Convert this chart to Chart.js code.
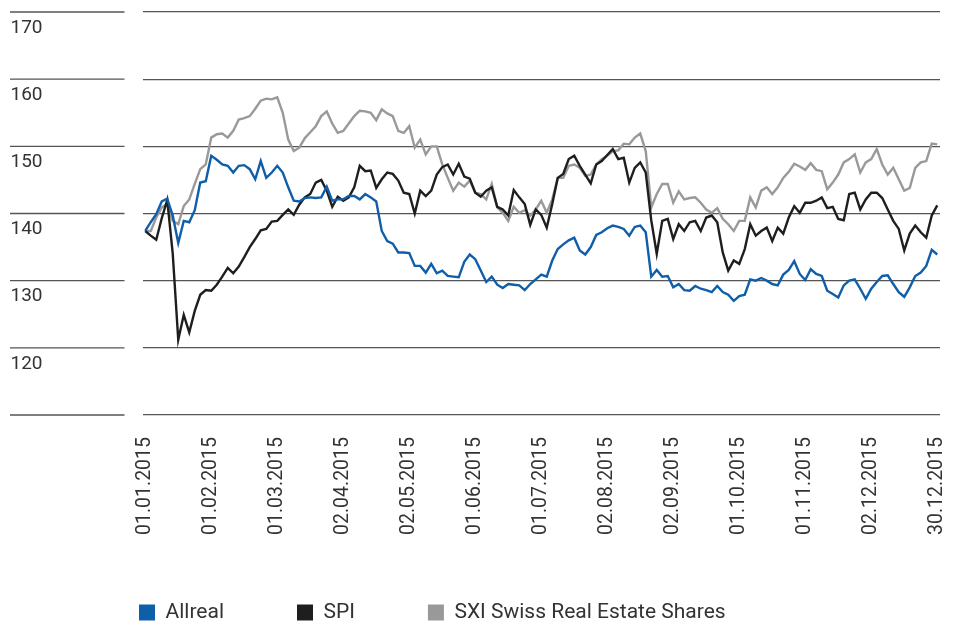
<!DOCTYPE html>
<html>
<head>
<meta charset="utf-8">
<script src="https://cdn.jsdelivr.net/npm/chart.js@4.4.1/dist/chart.umd.min.js"></script>
<style>
  html, body { margin: 0; padding: 0; background: #fff; }
</style>
</head>
<body>
<canvas id="perfChart" width="957" height="622"></canvas>
<script>
// tick labels on the x axis, one every 12 data points
const tickLabels = [
    '01.01.2015', '01.02.2015', '01.03.2015', '02.04.2015', '02.05.2015', '01.06.2015',
    '01.07.2015', '02.08.2015', '02.09.2015', '01.10.2015', '01.11.2015', '02.12.2015', '30.12.2015'
];
const yTicks = [110, 120, 130, 140, 150, 160, 170];

const allreal = [
    137.4, 138.7, 139.9, 141.8, 142.2, 139.7, 135.6, 138.9, 138.7, 140.5, 144.6, 144.8,
    148.6, 148.0, 147.3, 147.1, 146.1, 147.1, 147.2, 146.6, 145.1, 147.8, 145.3, 146.1,
    147.1, 146.1, 143.9, 141.9, 141.8, 142.3, 142.4, 142.3, 142.4, 144.0, 141.9, 142.1,
    142.1, 142.6, 142.6, 142.1, 142.9, 142.4, 141.8, 137.4, 135.9, 135.5, 134.2, 134.2,
    134.1, 132.2, 132.2, 131.2, 132.5, 131.1, 131.5, 130.7, 130.6, 130.5, 132.8, 133.9,
    133.2, 131.5, 129.8, 130.6, 129.4, 128.9, 129.5, 129.4, 129.3, 128.6, 129.5, 130.2,
    130.9, 130.6, 133.0, 134.7, 135.4, 136.0, 136.4, 134.5, 133.9, 135.0, 136.8, 137.2,
    137.8, 138.2, 138.0, 137.7, 136.7, 138.0, 138.2, 137.2, 130.6, 131.6, 130.6, 130.7,
    129.0, 129.5, 128.6, 128.5, 129.2, 128.8, 128.6, 128.3, 129.2, 128.3, 127.9, 127.0,
    127.7, 127.9, 130.2, 130.0, 130.4, 130.0, 129.5, 129.3, 130.9, 131.6, 132.9, 131.0,
    130.1, 131.7, 131.0, 130.7, 128.5, 128.0, 127.5, 129.3, 130.0, 130.2, 128.8, 127.3,
    128.8, 129.8, 130.7, 130.8, 129.5, 128.3, 127.6, 129.0, 130.7, 131.2, 132.2, 134.6,
    133.9
];
const spi = [
    137.4, 136.7, 136.1, 139.3, 142.0, 134.0, 121.2, 124.9, 122.3, 125.5, 127.9, 128.6,
    128.5, 129.4, 130.6, 131.9, 131.1, 132.1, 133.5, 135.0, 136.2, 137.5, 137.7, 138.8,
    138.9, 139.8, 140.6, 139.8, 141.3, 142.4, 142.9, 144.6, 145.0, 143.4, 141.0, 142.5,
    141.9, 142.4, 143.9, 147.1, 146.3, 146.4, 143.8, 145.1, 146.1, 145.9, 144.9, 143.1,
    142.9, 140.0, 143.4, 142.6, 143.4, 145.8, 146.9, 147.3, 145.8, 147.4, 145.5, 145.2,
    143.1, 142.5, 143.4, 143.9, 141.0, 140.6, 139.7, 143.5, 142.4, 141.4, 138.3, 140.6,
    139.8, 137.9, 141.4, 145.3, 145.9, 148.1, 148.6, 147.1, 145.8, 144.5, 147.3, 147.8,
    148.7, 149.6, 148.1, 148.3, 144.6, 146.8, 147.6, 146.1, 139.0, 134.0, 138.9, 139.2,
    136.2, 138.4, 137.4, 138.7, 138.9, 137.4, 139.4, 139.7, 138.7, 134.2, 131.5, 133.0,
    132.5, 134.7, 138.4, 136.7, 137.4, 137.9, 135.9, 137.9, 137.0, 139.4, 141.1, 140.1,
    141.6, 141.6, 141.9, 142.4, 140.8, 141.0, 139.2, 139.0, 142.9, 143.1, 140.6, 142.1,
    143.1, 143.1, 142.3, 140.6, 138.9, 137.7, 134.5, 137.0, 138.2, 137.2, 136.4, 139.7,
    141.2
];
const sxi = [
    137.4, 137.4, 139.4, 140.9, 141.4, 138.9, 138.4, 141.1, 142.1, 144.4, 146.6, 147.3,
    151.3, 151.8, 151.9, 151.3, 152.3, 154.0, 154.2, 154.5, 155.6, 156.8, 157.1, 157.0,
    157.3, 155.0, 151.0, 149.3, 149.8, 151.2, 152.1, 153.0, 154.5, 155.2, 153.4, 152.0,
    152.3, 153.4, 154.5, 155.3, 155.2, 155.0, 153.9, 155.5, 154.9, 154.5, 152.3, 152.0,
    153.0, 149.8, 151.0, 148.8, 150.0, 150.0, 147.3, 145.3, 143.4, 144.6, 144.0, 144.9,
    143.1, 142.9, 142.1, 144.4, 140.9, 140.1, 138.9, 141.0, 140.1, 140.5, 139.7, 140.6,
    141.9, 140.1, 142.1, 145.3, 145.3, 147.1, 147.3, 146.8, 145.6, 145.8, 147.3, 148.1,
    148.6, 149.3, 149.4, 150.4, 150.3, 151.3, 151.9, 149.3, 140.9, 142.9, 144.4, 144.4,
    141.6, 143.3, 142.1, 142.3, 142.4, 141.6, 140.6, 140.1, 140.8, 139.2, 138.4, 137.4,
    138.9, 138.9, 142.4, 140.9, 143.4, 143.9, 142.9, 143.9, 145.3, 146.2, 147.4, 147.0,
    146.5, 147.5, 146.5, 146.3, 143.6, 144.6, 145.8, 147.6, 148.1, 148.8, 146.1, 147.6,
    148.1, 149.6, 147.3, 145.8, 146.8, 145.1, 143.4, 143.8, 146.8, 147.6, 147.8, 150.4,
    150.3
];

const labels = allreal.map((v, i) => (i % 12 === 0 ? tickLabels[i / 12] : ''));

const gridColor = '#555555';
const textColor = '#333333';
const legendGap = 73;

Chart.defaults.font.family = 'Roboto';
Chart.defaults.color = textColor;

// short rules left of the value labels, one per y tick
const leftRules = {
    id: 'leftRules',
    afterDraw(chart) {
        const { ctx, scales: { y } } = chart;
        ctx.save();
        ctx.strokeStyle = gridColor;
        ctx.lineWidth = 1.3;
        y.ticks.forEach(t => {
            const py = y.getPixelForValue(t.value);
            ctx.beginPath();
            ctx.moveTo(10, py);
            ctx.lineTo(chart.chartArea.left - 18, py);
            ctx.stroke();
        });
        ctx.restore();
    }
};

// move the legend row under the plot, starting below the first date
const legendPlace = {
    id: 'legendPlace',
    afterLayout(chart) {
        const lg = chart.legend;
        lg.left = 139 - legendGap;
        lg.right = chart.width;
        lg.top = 602 - legendGap;
        lg.bottom = chart.height;
    }
};

const series = [
    { label: 'Allreal', data: allreal, color: '#0f5ea9' },
    { label: 'SPI', data: spi, color: '#1e1e1e' },
    { label: 'SXI Swiss Real Estate Shares', data: sxi, color: '#999999' }
];

new Chart(document.getElementById('perfChart'), {
    type: 'line',
    data: {
        labels: labels,
        datasets: series.map(s => ({
            label: s.label,
            data: s.data,
            borderColor: s.color,
            backgroundColor: s.color,
            borderWidth: 2.4,
            pointRadius: 0,
            tension: 0,
            fill: false
        }))
    },
    options: {
        responsive: false,
        animation: false,
        layout: { padding: { left: 0, top: 12, right: 17, bottom: 0 } },
        plugins: {
            tooltip: { enabled: false },
            legend: {
                position: 'bottom',
                align: 'start',
                maxHeight: 77,
                labels: {
                    boxWidth: 16,
                    boxHeight: 16,
                    padding: legendGap,
                    color: textColor,
                    font: { size: 21 },
                    generateLabels: chart => Chart.defaults.plugins.legend.labels
                        .generateLabels(chart).map(l => ({ ...l, lineWidth: 0 }))
                }
            }
        },
        scales: {
            x: {
                offset: true,
                grid: { display: false, drawTicks: false },
                border: { display: false },
                ticks: {
                    autoSkip: false,
                    minRotation: 90,
                    maxRotation: 90,
                    padding: 22,
                    color: textColor,
                    font: { size: 19.5 }
                },
                afterFit: s => { s.height = 130; s.paddingLeft = 0; s.paddingRight = 0; }
            },
            y: {
                min: yTicks[0],
                max: yTicks[yTicks.length - 1],
                afterBuildTicks: s => { s.ticks = yTicks.map(v => ({ value: v })); },
                grid: { color: gridColor, lineWidth: 1.3, drawTicks: false },
                border: { display: false },
                ticks: {
                    padding: 100,
                    labelOffset: 16,
                    color: textColor,
                    font: { size: 19 },
                    callback: v => (v === yTicks[0] ? '' : v)
                },
                afterFit: s => { s.width = 142.5; s.paddingTop = 0; s.paddingBottom = 0; }
            }
        }
    },
    plugins: [leftRules, legendPlace]
});
</script>
</body>
</html>
